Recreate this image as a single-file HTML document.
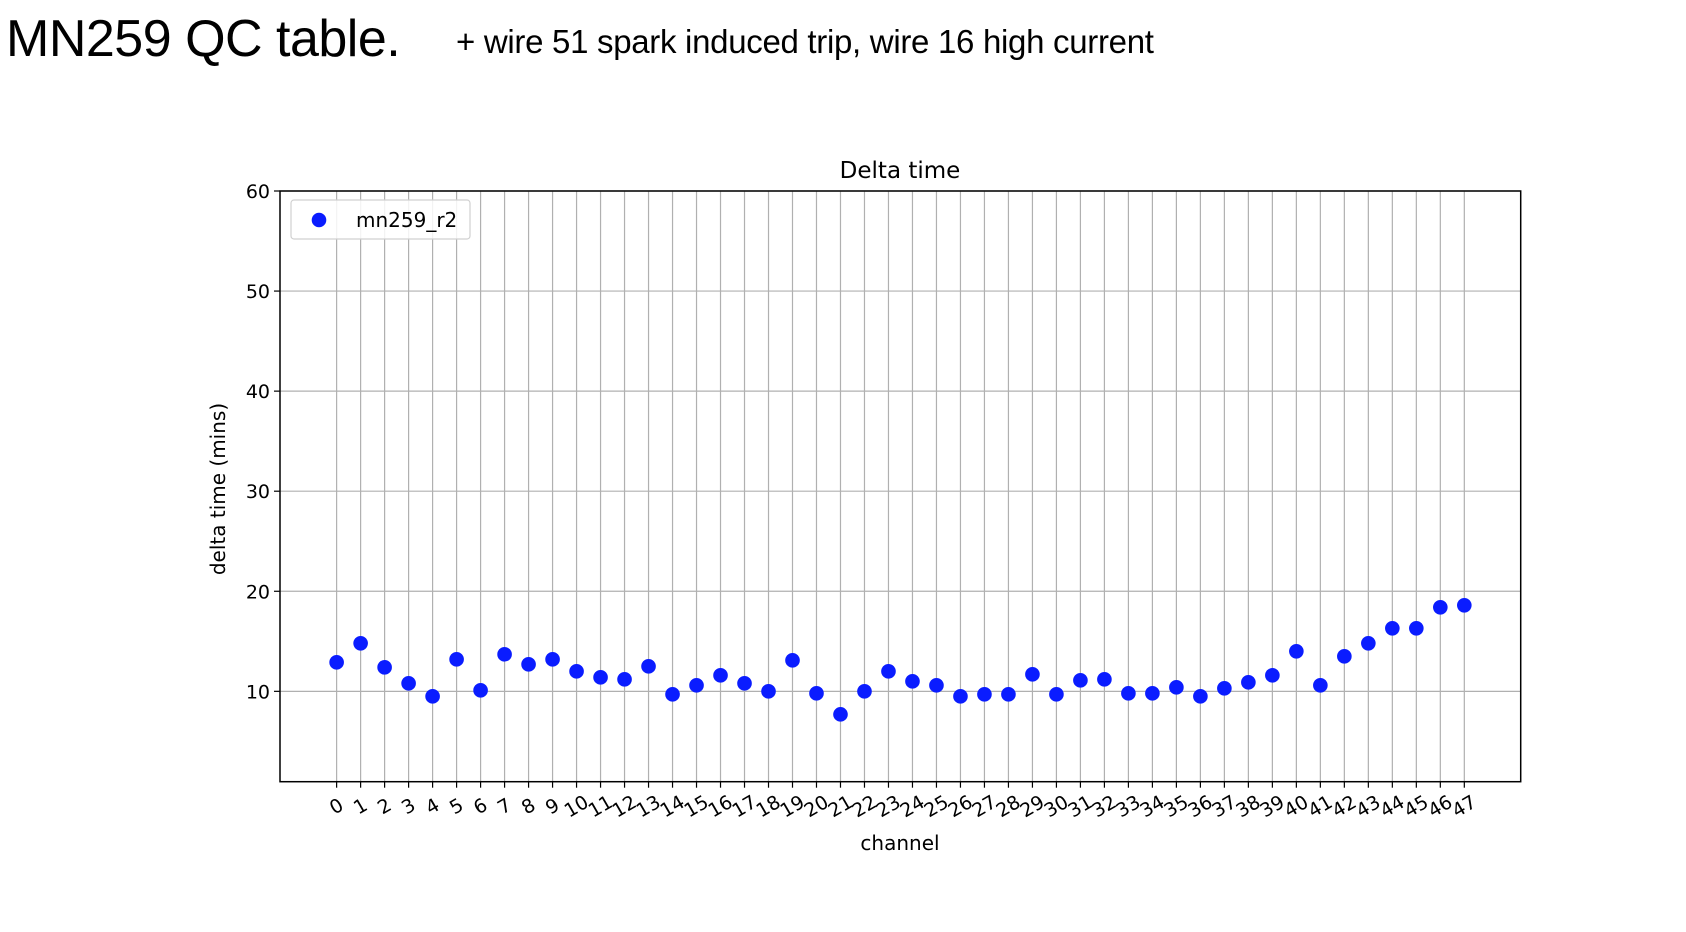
<!DOCTYPE html>
<html><head><meta charset="utf-8"><style>
body{margin:0;background:#fff;width:1686px;height:932px;overflow:hidden;font-family:"DejaVu Sans","Liberation Sans",sans-serif}
.h{position:absolute;font-family:"Liberation Sans",sans-serif;color:#000;white-space:nowrap}
</style></head><body>
<div class="h" style="left:6px;top:9px;font-size:52px;letter-spacing:-0.5px">MN259 QC table.</div>
<div class="h" style="left:456px;top:23px;font-size:33px;letter-spacing:-0.3px">+ wire 51 spark induced trip, wire 16 high current</div>
<svg id="chart" width="1686" height="932" style="position:absolute;left:0;top:0"></svg>
<script>
const channels=[0,1,2,3,4,5,6,7,8,9,10,11,12,13,14,15,16,17,18,19,20,21,22,23,24,25,26,27,28,29,30,31,32,33,34,35,36,37,38,39,40,41,42,43,44,45,46,47];
const deltaTime=[12.9,14.8,12.4,10.8,9.5,13.2,10.1,13.7,12.7,13.2,12.0,11.4,11.2,12.5,9.7,10.6,11.6,10.8,10.0,13.1,9.8,7.7,10.0,12.0,11.0,10.6,9.5,9.7,9.7,11.7,9.7,11.1,11.2,9.8,9.8,10.4,9.5,10.3,10.9,11.6,14.0,10.6,13.5,14.8,16.3,16.3,18.4,18.6];
const yTicks=[10,20,30,40,50,60];
const NS='http://www.w3.org/2000/svg';
const svg=document.getElementById('chart');
const L=280,R=1520.7,T=191,B=781.7;
const xMin=-2.36,xMax=49.35,yMin=0.97,yMax=60;
const xs=v=>L+(v-xMin)/(xMax-xMin)*(R-L);
const ys=v=>B-(v-yMin)/(yMax-yMin)*(B-T);
function mk(t,a,p){const e=document.createElementNS(NS,t);for(const k in a)e.setAttribute(k,a[k]);(p||svg).appendChild(e);return e;}
channels.forEach(c=>{const l=mk('line',{x1:xs(c),x2:xs(c),y1:T,y2:B,stroke:'#b0b0b0','stroke-width':1.2});

});
yTicks.forEach(v=>{const l=mk('line',{x1:L,x2:R,y1:ys(v),y2:ys(v),stroke:'#b0b0b0','stroke-width':1.2});


const tk=mk('line',{x1:L-6,x2:L,y1:ys(v),y2:ys(v),stroke:'#000','stroke-width':1.2});


const t=mk('text',{x:L-10,y:ys(v)+7,'text-anchor':'end','font-size':19,fill:'#000'});t.textContent=v;

});
channels.forEach(c=>{const tk=mk('line',{x1:xs(c),x2:xs(c),y1:B,y2:B+6,stroke:'#000','stroke-width':1.2});


const x=xs(c),y=B+31;
const t=mk('text',{x:x,y:y,'text-anchor':'middle','font-size':19,fill:'#000',transform:`rotate(-30 ${x} ${y-6})`});t.textContent=c;

});
const f=mk('rect',{x:L,y:T,width:R-L,height:B-T,fill:'none',stroke:'#000','stroke-width':1.5});


channels.forEach((c,i)=>{const d=mk('circle',{cx:xs(c),cy:ys(deltaTime[i]),r:7.3,fill:'#0a1cff'});

});
let t=mk('text',{x:900,y:178,'text-anchor':'middle','font-size':23,fill:'#000'});t.textContent='Delta time';


t=mk('text',{x:900,y:850,'text-anchor':'middle','font-size':20,fill:'#000'});t.textContent='channel';


t=mk('text',{x:225,y:489,'text-anchor':'middle','font-size':20,fill:'#000',transform:'rotate(-90 225 489)'});t.textContent='delta time (mins)';


const g=mk('g',{});


mk('rect',{x:291,y:200,width:179,height:39,rx:3,fill:'#fff','fill-opacity':0.85,stroke:'#d0d0d0','stroke-width':1.2},g);
mk('circle',{cx:319,cy:220,r:7.3,fill:'#0a1cff'},g);
t=mk('text',{x:356,y:227,'font-size':20,fill:'#000'},g);t.textContent='mn259_r2';


</script>
</body></html>
